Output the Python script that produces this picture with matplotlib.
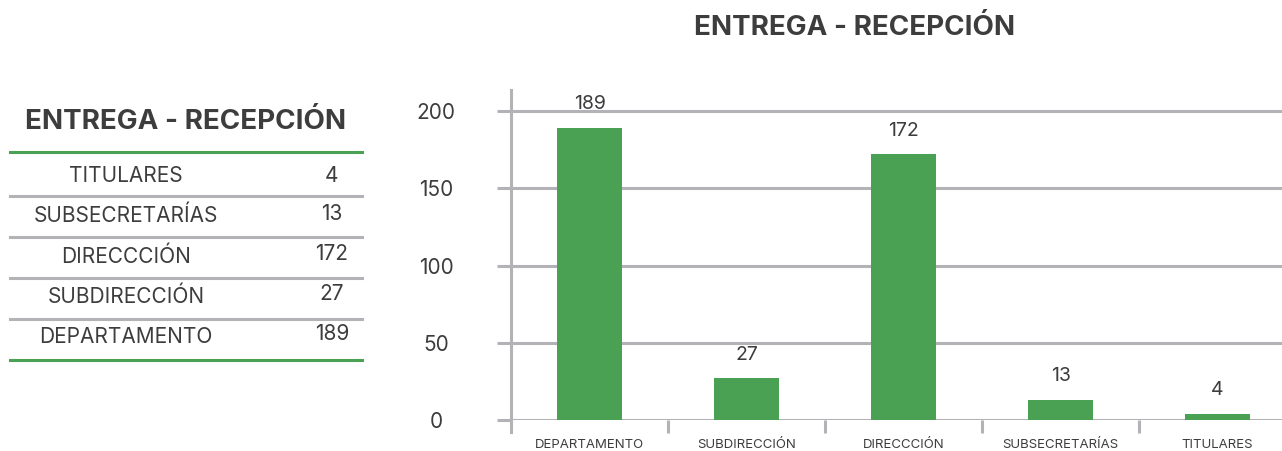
import matplotlib.pyplot as plt
from matplotlib.lines import Line2D

plt.rcParams['font.family'] = ['Inter', 'DejaVu Sans']

# Data
title = 'ENTREGA - RECEPCIÓN'
table_labels = ['TITULARES', 'SUBSECRETARÍAS', 'DIRECCCIÓN', 'SUBDIRECCIÓN', 'DEPARTAMENTO']
table_values = [4, 13, 172, 27, 189]
bar_labels = ['DEPARTAMENTO', 'SUBDIRECCIÓN', 'DIRECCCIÓN', 'SUBSECRETARÍAS', 'TITULARES']
bar_values = [189, 27, 172, 13, 4]

green = '#4aa153'
gray = '#b3b3b7'
text_col = '#3d3d3d'

W, H = 1282, 451
fig = plt.figure(figsize=(W / 100, H / 100), dpi=100)

# Left table drawn in pixel coordinates on an overlay axes
tab = fig.add_axes([0, 0, 1, 1])
tab.set_xlim(0, W)
tab.set_ylim(H, 0)
tab.axis('off')

tab.text(186, 122, title, ha='center', va='center', fontsize=20,
         fontweight='bold', color=text_col)
tab.add_line(Line2D([10, 362], [152, 152], color=green, lw=2.2))
for i, (lab, val) in enumerate(zip(table_labels, table_values)):
    y = 175.7 + 40.3 * i
    tab.text(126, y, lab, ha='center', va='center', fontsize=15, color=text_col)
    tab.text(332, y - (0 if i == 0 else 2.5), str(val), ha='center', va='center',
             fontsize=15, color=text_col)
    if i < len(table_labels) - 1:
        tab.add_line(Line2D([10, 362], [195.5 + 41 * i] * 2, color=gray, lw=2.2))
tab.add_line(Line2D([10, 362], [359.5, 359.5], color=green, lw=2.2))

# Main bar chart
ax = fig.add_axes([511 / W, 31 / H, (W - 511) / W, 330 / H])
x = range(len(bar_values))
bars = ax.bar(x, bar_values, width=0.41, color=green, zorder=3)
ax.set_xlim(-0.5, 4.41)
ax.set_ylim(0, 213.6)
ax.set_yticks([0, 50, 100, 150, 200])
ax.yaxis.grid(True, color=gray, lw=2.2, zorder=0)
ax.set_xticks([i + 0.5 for i in range(len(bar_values) - 1)])
ax.set_xticklabels([])
ax.set_xticks(list(x), minor=True)
ax.set_xticklabels(bar_labels, minor=True, fontsize=9.5, color=text_col)
ax.tick_params(axis='x', which='minor', length=0, pad=14)
ax.tick_params(axis='x', which='major', length=9, width=2.2, color=gray)
ax.tick_params(axis='y', length=10, width=2.2, color=gray, labelsize=15,
               labelcolor=text_col, pad=44)
for lab in ax.get_yticklabels():
    lab.set_horizontalalignment('center')
for s in ['top', 'right', 'bottom']:
    ax.spines[s].set_visible(False)
ax.spines['left'].set_color(gray)
ax.spines['left'].set_linewidth(2.2)
ax.spines['left'].set_bounds(-8, 213.6)
ax.spines['left'].set_clip_on(False)
for b, v in zip(bars, bar_values):
    ax.annotate(str(v), (b.get_x() + b.get_width() / 2, v), xytext=(0, 17),
                textcoords='offset points', ha='center', va='center',
                fontsize=14, color=text_col)

fig.text(855 / W, 1 - 28 / H, title, ha='center', va='center', fontsize=20,
         fontweight='bold', color=text_col)

fig.savefig('out.png', dpi=100)
